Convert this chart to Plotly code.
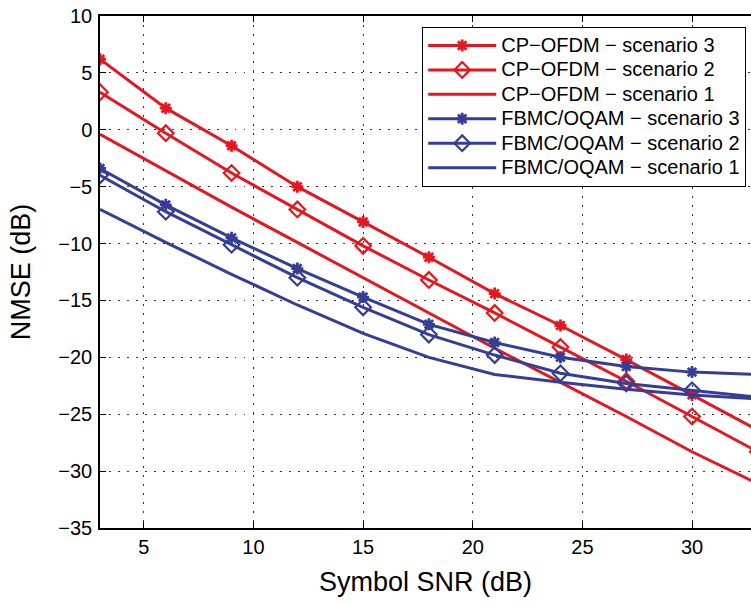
import plotly.graph_objects as go

snr = [3, 6, 9, 12, 15, 18, 21, 24, 27, 30, 33]

cp_s3 = [6.2, 1.9, -1.4, -5.0, -8.1, -11.2, -14.4, -17.2, -20.2, -23.3, -26.4]
cp_s2 = [3.3, -0.3, -3.8, -7.0, -10.2, -13.2, -16.1, -19.1, -22.1, -25.2, -28.3]
cp_s1 = [-0.4, -3.6, -6.8, -9.9, -13.0, -16.1, -19.2, -22.2, -25.2, -28.3, -31.1]
fb_s3 = [-3.4, -6.6, -9.5, -12.2, -14.7, -17.1, -18.7, -20.0, -20.8, -21.3, -21.5]
fb_s2 = [-4.0, -7.2, -10.1, -13.0, -15.6, -18.0, -19.8, -21.4, -22.3, -22.9, -23.5]
fb_s1 = [-7.0, -9.9, -12.7, -15.4, -17.9, -20.0, -21.5, -22.2, -22.8, -23.3, -23.65]

names = ["CP\u2212OFDM \u2212 scenario 3", "CP\u2212OFDM \u2212 scenario 2", "CP\u2212OFDM \u2212 scenario 1",
         "FBMC/OQAM \u2212 scenario 3", "FBMC/OQAM \u2212 scenario 2", "FBMC/OQAM \u2212 scenario 1"]

x_ticks = [5, 10, 15, 20, 25, 30]
y_ticks = [-35, -30, -25, -20, -15, -10, -5, 0, 5, 10]

RED = "#E6161E"
BLUE = "#353E96"

series = [
    (cp_s3, RED, "asterisk-open"),
    (cp_s2, RED, "diamond-open"),
    (cp_s1, RED, None),
    (fb_s3, BLUE, "asterisk-open"),
    (fb_s2, BLUE, "diamond-open"),
    (fb_s1, BLUE, None),
]

fig = go.Figure()
for i, ((vals, col, sym), nm) in enumerate(zip(series, names)):
    label = '<span style="font-size:20px">' + nm + '</span>'
    if sym is None:
        fig.add_trace(go.Scatter(x=snr, y=vals, name=label, mode="lines",
                                 legendgroup=f"g{i}",
                                 line=dict(color=col, width=3)))
    else:
        star = sym.startswith("asterisk")
        fig.add_trace(go.Scatter(x=snr, y=vals, name=label, mode="lines+markers",
                                 legendgroup=f"g{i}",
                                 line=dict(color=col, width=3),
                                 marker=dict(symbol=sym, size=10 if star else 12,
                                             line=dict(color=col, width=2.8 if star else 2.2))))

fig.update_layout(
    width=751, height=603,
    margin=dict(l=100, r=0, t=16, b=75),
    plot_bgcolor="white", paper_bgcolor="white",
    font=dict(family="Liberation Sans, Arial, sans-serif", color="black", size=20),
    showlegend=True,
    legend=dict(x=(422 - 100) / 651, y=(528 - 27) / 512, xanchor="left", yanchor="top",
                bgcolor="white", bordercolor="black", borderwidth=1.2,
                font=dict(size=16.5), itemwidth=68, tracegroupgap=0),
    xaxis=dict(range=[3, 32.69], tickvals=x_ticks,
               showline=True, linecolor="black", linewidth=1.5, mirror="ticks",
               ticks="inside", ticklen=6, tickcolor="black",
               showgrid=True, gridcolor="#333", griddash="1.5px,7.5px", gridwidth=1.2,
               zeroline=False,
               title=dict(text="Symbol SNR (dB)", font=dict(size=27), standoff=15)),
    yaxis=dict(range=[-35, 10], tickvals=y_ticks,
               showline=True, linecolor="black", linewidth=1.5, mirror=False,
               ticks="inside", ticklen=6, tickcolor="black", ticklabelstandoff=2,
               showgrid=True, gridcolor="#333", griddash="1.5px,7.5px", gridwidth=1.2,
               zeroline=False,
               title=dict(text="NMSE (dB)", font=dict(size=27), standoff=20)),
)

fig.write_html("out.html", config={"displayModeBar": False},
               post_script="document.body.style.margin='0';document.body.style.overflow='hidden';")
